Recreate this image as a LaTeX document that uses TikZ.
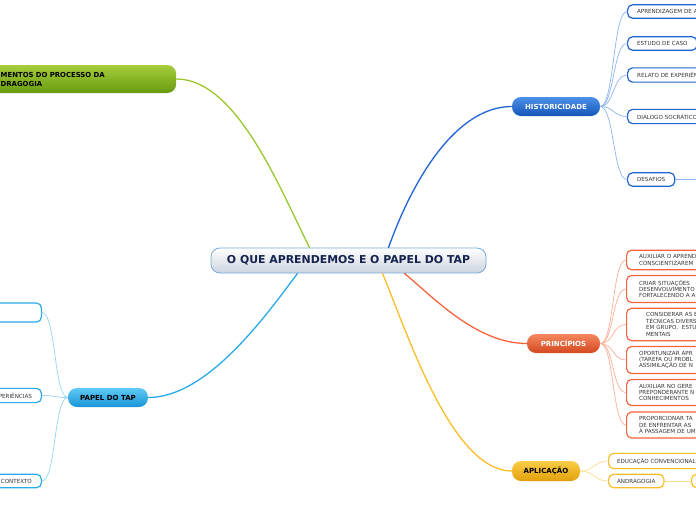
\documentclass[tikz,border=0pt]{standalone}
\usepackage{fontspec}
\setmainfont{DejaVu Sans}
\usepackage{tikz}
\usetikzlibrary{calc}
\definecolor{rootline}{RGB}{120,170,220}
\definecolor{rootlow}{RGB}{205,212,222}
\definecolor{rootink}{RGB}{20,35,80}
\definecolor{leafink}{RGB}{55,55,55}
\definecolor{histA}{RGB}{75,145,232}
\definecolor{histB}{RGB}{20,85,185}
\definecolor{histline}{RGB}{30,100,210}
\definecolor{histthin}{RGB}{140,180,240}
\definecolor{prinA}{RGB}{245,135,95}
\definecolor{prinB}{RGB}{212,72,32}
\definecolor{prinline}{RGB}{245,100,60}
\definecolor{printhin}{RGB}{250,175,150}
\definecolor{aplA}{RGB}{252,205,70}
\definecolor{aplB}{RGB}{225,160,10}
\definecolor{aplline}{RGB}{250,190,40}
\definecolor{aplthin}{RGB}{252,220,140}
\definecolor{papA}{RGB}{95,202,245}
\definecolor{papB}{RGB}{25,150,215}
\definecolor{papline}{RGB}{40,170,235}
\definecolor{papthin}{RGB}{150,210,245}
\definecolor{grnA}{RGB}{165,205,60}
\definecolor{grnB}{RGB}{105,155,15}
\definecolor{grnline}{RGB}{155,200,45}

\begin{document}
\begin{tikzpicture}[x=1pt,y=-1pt,line cap=round,
  every node/.append style={font=\fontsize{5.6}{6.4}\selectfont},
  rootbox/.style={draw=rootline,line width=0.8pt,rounded corners=9pt,
    top color=white,bottom color=rootlow,minimum width=275pt,minimum height=25pt,
    inner sep=0pt,text=rootink,font=\bfseries\fontsize{10.9}{12}\selectfont},
  topic/.style={rounded corners=9pt,minimum height=19pt,inner sep=0pt,
    font=\bfseries\fontsize{7}{8}\selectfont},
  leaf/.style={draw,fill=white,line width=1.2pt,rounded corners=5pt,
    inner xsep=9.5pt,inner ysep=4.5pt,minimum height=13.5pt,text=leafink,align=left},
  mainlink/.style={line width=1.3pt},
  sublink/.style={line width=0.7pt}]

\useasboundingbox (0,0) rectangle (696,520);
\clip (0,0) rectangle (696,520);

% =============================== nodes ================================
\node[rootbox] (root) at (348.5,260.5) {O QUE APRENDEMOS E O PAPEL DO TAP};

\node[topic,top color=histA,bottom color=histB,text=white,minimum width=88pt]
  (hist) at (556,106.5) {HISTORICIDADE};
\node[topic,top color=prinA,bottom color=prinB,text=white,minimum width=73pt]
  (prin) at (563.5,343.5) {PRINCÍPIOS};
\node[topic,top color=aplA,bottom color=aplB,text=black,minimum width=68pt,minimum height=20pt]
  (apl) at (546,471) {APLICAÇÃO};
\node[topic,top color=papA,bottom color=papB,text=black,minimum width=80pt]
  (pap) at (108,397.5) {PAPEL DO TAP};
\node[topic,top color=grnA,bottom color=grnB,text=black,anchor=west,align=left,
  inner xsep=60.5pt,text width=115pt,minimum height=28pt,
  font=\bfseries\fontsize{6.9}{9}\selectfont]
  (grn) at (-60,79) {MENTOS DO PROCESSO DA\\DRAGOGIA};

% historicidade
\node[leaf,draw=histline,anchor=west,text width=100pt] (hA) at (627,11.5) {APRENDIZAGEM DE A};
\node[leaf,draw=histline,anchor=west] (hB) at (627,43.5) {ESTUDO DE CASO};
\node[leaf,draw=histline,anchor=west,text width=100pt] (hC) at (627,75) {RELATO DE EXPERIÊN};
\node[leaf,draw=histline,anchor=west,text width=100pt] (hD) at (627,116.5) {DIÁLOGO SOCRÁTICO};
\node[leaf,draw=histline,anchor=west] (hE) at (627,179.5) {DESAFIOS};
\coordinate (hEnext) at (700,179.5);

% principios
\node[leaf,draw=prinline,anchor=west,text width=100pt,inner xsep=12.5pt] (pA) at (626,260)
  {AUXILIAR O APRENDI\\CONSCIENTIZAREM};
\node[leaf,draw=prinline,anchor=west,text width=100pt,inner xsep=12.5pt] (pB) at (626,289)
  {CRIAR SITUAÇÕES\\DESENVOLVIMENTO\\FORTALECENDO A A};
\node[leaf,draw=prinline,anchor=west,text width=100pt,inner xsep=19.5pt] (pC) at (626,324.5)
  {CONSIDERAR AS E\\TÉCNICAS DIVERS\\EM GRUPO,\ \ ESTU\\MENTAIS};
\node[leaf,draw=prinline,anchor=west,text width=100pt,inner xsep=12.5pt] (pD) at (626,360)
  {OPORTUNIZAR APR\\(TAREFA OU PROBL\\ASSIMILAÇÃO DE N};
\node[leaf,draw=prinline,anchor=west,text width=100pt,inner xsep=12.5pt] (pE) at (626,392.5)
  {AUXILIAR NO GERE\\PREPONDERANTE N\\CONHECIMENTOS};
\node[leaf,draw=prinline,anchor=west,text width=100pt,inner xsep=12.5pt] (pF) at (626,425)
  {PROPORCIONAR TA\\DE ENFRENTAR AS\\À PASSAGEM DE UM};

% aplicacao
\node[leaf,draw=aplline,anchor=west,inner xsep=8.5pt] (aA) at (608,461) {EDUCAÇÃO CONVENCIONAL};
\node[leaf,draw=aplline,anchor=west,inner xsep=8.5pt] (aB) at (608,481) {ANDRAGOGIA};
\node[leaf,draw=aplline,anchor=west,minimum width=60pt] (aC) at (691,481) {};

% papel do tap
\node[leaf,draw=papline,anchor=east,minimum width=100pt,minimum height=19pt] (tA) at (42,312.5) {};
\node[leaf,draw=papline,anchor=east,text width=80pt,align=right] (tB) at (42,395.5) {PERIÊNCIAS};
\node[leaf,draw=papline,anchor=east,text width=80pt,align=right] (tC) at (42,481) {CONTEXTO};

% ============================ main branches ===========================
\draw[mainlink,grnline] ($(root.north)+(-39,0)$) .. controls +(-30,-60) and +(60,0) .. (grn.east);
\draw[mainlink,histline] ($(root.north)+(40,0)$) .. controls +(25,-70) and +(-55,0) .. (hist.west);
\draw[mainlink,papline] ($(root.south)+(-51,0)$) .. controls +(-30,40) and +(60,0) .. (pap.east);
\draw[mainlink,prinline] ($(root.south)+(56,0)$) .. controls +(30,25) and +(-50,0) .. (prin.west);
\draw[mainlink,aplline] ($(root.south)+(34,0)$) .. controls +(25,60) and +(-60,0) .. (apl.west);

% ============================= sub branches ===========================
\foreach \leafname in {hA,hB,hC,hD,hE}{
  \draw[sublink,histthin] (hist.east) .. controls +(14,0) and +(-14,0) .. (\leafname.west);}
\draw[sublink,histthin] (hE.east) -- (hEnext);
\foreach \leafname in {pA,pB,pC,pD,pE,pF}{
  \draw[sublink,printhin] (prin.east) .. controls +(14,0) and +(-14,0) .. (\leafname.west);}
\foreach \leafname in {aA,aB}{
  \draw[sublink,aplthin] (apl.east) .. controls +(14,0) and +(-14,0) .. (\leafname.west);}
\draw[sublink,aplthin] (aB.east) -- (aC.west);
\foreach \leafname in {tA,tB,tC}{
  \draw[sublink,papthin] (pap.west) .. controls +(-14,0) and +(14,0) .. (\leafname.east);}

\end{tikzpicture}
\end{document}
